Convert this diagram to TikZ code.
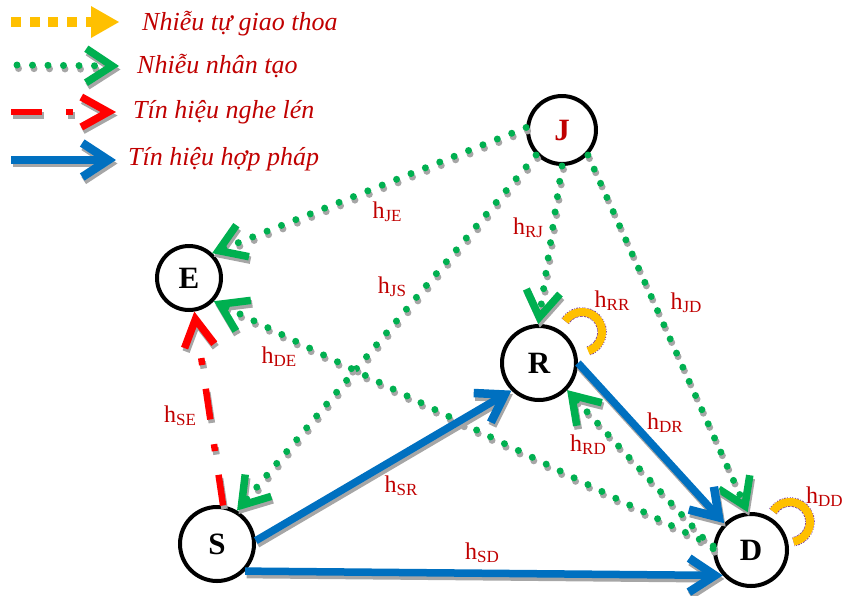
\documentclass[tikz,border=0pt]{standalone}
\usepackage{fontspec}
\setmainfont{Liberation Serif}
\usetikzlibrary{arrows.meta}

\definecolor{darkred}{HTML}{C00000}
\definecolor{jamgreen}{HTML}{00B050}
\definecolor{legitblue}{HTML}{0070C0}
\definecolor{selforange}{HTML}{FFC000}
\definecolor{outlinepurple}{HTML}{7030A0}
\definecolor{eavesred}{HTML}{FF0000}
\definecolor{shadowgray}{HTML}{A6A6A6}

% channel label: h with a lowered capital subscript
\newcommand\hsub[1]{h\raisebox{-3pt}{\fontsize{17}{17}\selectfont #1}}

% draw a path twice: a grey drop shadow first, then the path itself
\newcommand\shadowed[2]{%
  \begin{scope}[transform canvas={shift={(1.5pt,-3.5pt)}}]
    \draw[#1, draw=shadowgray] #2;
  \end{scope}
  \draw[#1] #2;}

\tikzset{
  station/.style={circle, draw=black, line width=4pt, fill=white, inner sep=0pt,
    font=\fontsize{31}{31}\selectfont\bfseries},
  chan/.style={text=darkred, font=\fontsize{24}{24}\selectfont, inner sep=0pt},
  legendtext/.style={text=darkred, font=\fontsize{26}{26}\selectfont\itshape,
    inner sep=0pt, anchor=base west},
  jam/.style={draw=jamgreen, line width=7pt, line cap=round,
    dash pattern=on 0pt off 15.5pt,
    -{Straight Barb[length=26pt, width=34pt, line width=7.5pt]}},
  legit/.style={draw=legitblue, line width=7.5pt,
    -{Straight Barb[length=26pt, width=34pt, line width=8.5pt]}},
  eaves/.style={draw=eavesred, line width=6.5pt,
    -{Straight Barb[length=27pt, width=30pt, line width=7.5pt]}},
  selfloopback/.style={draw=outlinepurple, line width=9.5pt, dash pattern=on 1pt off 1.2pt},
  selfloop/.style={draw=selforange, line width=8pt},
}

\begin{document}
\begin{tikzpicture}[x=1pt, y=-1pt]
\useasboundingbox (0,0) rectangle (843,595);

% ---- legend ----
\foreach \xx in {11,29.5,48,66.5}
  \fill[selforange] (\xx,17) rectangle ++(10,10);
\fill[selforange] (86,17) rectangle (93,27);
\fill[selforange] (91,6) -- (119,22) -- (91,38) -- cycle;
\node[legendtext] (lg1) at (142,30) {Nhiễu tự giao thoa};

\shadowed{jam}{(17,65) -- (119,66)}
\node[legendtext] (lg2) at (137,73) {Nhiễu nhân tạo};

\shadowed{eaves, dash pattern=on 31pt off 24pt on 7pt off 100pt}{(11,112) -- (116,112)}
\node[legendtext] (lg3) at (133,118) {Tín hiệu nghe lén};

\shadowed{legit}{(11,160) -- (116,160)}
\node[legendtext] (lg4) at (128,165) {Tín hiệu hợp pháp};

% ---- stations ----
\node[station, minimum size=68pt, text=darkred] (J) at (562,130) {J};
\node[station, minimum size=64pt] (E) at (189,278) {E};
\node[station, minimum size=74pt] (R) at (539,363) {R};
\node[station, minimum size=74pt] (S) at (217,544) {S};
\node[station, minimum size=72pt] (D) at (751,550) {D};

% ---- self interference loops ----
\draw[selfloopback] (582,332) ++(213:20) arc[start angle=213, end angle=432, radius=20];
\draw[selfloop] (582,332) ++(213:20) arc[start angle=213, end angle=432, radius=20];
\draw[selfloopback] (790,522) ++(212:20) arc[start angle=212, end angle=440, radius=20];
\draw[selfloop] (790,522) ++(212:20) arc[start angle=212, end angle=440, radius=20];

% ---- artificial noise ----
\shadowed{jam}{(J.176) -- (E.47)}
\shadowed{jam}{(J.224) -- (S.59)}
\shadowed{jam}{(J.270) -- (R.91)}
\shadowed{jam}{(J.316) -- (D.95)}
\shadowed{jam}{(D.174) -- (E.317)}
\shadowed{jam}{(D.178) -- (R.316)}

% ---- legitimate links ----
\shadowed{legit}{(S.5) -- (R.225)}
\shadowed{legit}{(S.316) -- (D.222)}
\shadowed{legit}{(R.0) -- (D.135)}

% ---- eavesdropping link ----
\shadowed{eaves, dash pattern=on 31pt off 24pt on 7pt off 25pt on 31pt off 24pt on 7pt off 80pt}{(S.81) -- (E.279)}

% ---- channel labels ----
\node[chan] (lJE) at (387,212) {\hsub{JE}};
\node[chan] (lJS) at (392,287) {\hsub{JS}};
\node[chan] (lDE) at (279,357) {\hsub{DE}};
\node[chan] (lRJ) at (528,228) {\hsub{RJ}};
\node[chan] (lRR) at (612,301) {\hsub{RR}};
\node[chan] (lJD) at (686,303) {\hsub{JD}};
\node[chan] (lDR) at (665,423) {\hsub{DR}};
\node[chan] (lRD) at (588,445) {\hsub{RD}};
\node[chan] (lSR) at (401,486) {\hsub{SR}};
\node[chan] (lSD) at (482,553) {\hsub{SD}};
\node[chan] (lSE) at (180,416) {\hsub{SE}};
\node[chan, anchor=west] (lDD) at (806,497) {\hsub{DD}};
\end{tikzpicture}
\end{document}
